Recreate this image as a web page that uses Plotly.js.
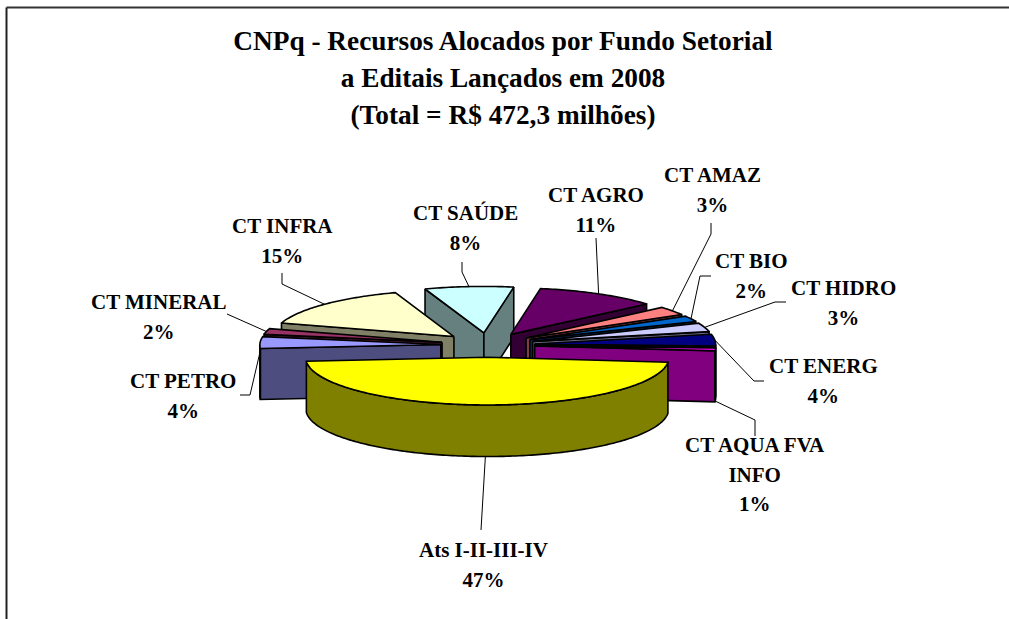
<!DOCTYPE html>
<html>
<head>
<meta charset="utf-8">
<script src="https://cdn.plot.ly/plotly-3.0.1.min.js"></script>
<style>html,body{margin:0;padding:0;background:#fff;overflow:hidden}#chart{width:1009px;height:619px}</style>
</head>
<body>
<div id="chart"></div>
<script>
// Data, clockwise from CT AGRO
var categories = ["CT AGRO","CT AMAZ","CT BIO","CT HIDRO","CT ENERG","CT AQUA FVA<br>INFO","Ats I-II-III-IV","CT PETRO","CT MINERAL","CT INFRA","CT SAÚDE"];
var shares = [11,3,2,3,4,1,47,4,2,15,8];
var topColors = ["#660066","#FF8080","#0066CC","#CCCCFF","#000080","#FF00FF","#FFFF00","#9999FF","#993366","#FFFFCC","#CCFFFF"];
var sideColors = ["#330033","#804040","#003366","#666680","#000040","#800080","#808000","#4D4D80","#4D1A33","#808066","#668080"];

// Pie geometry (pixel axes)
var firstAngle = 9.6, cx = 487.8, cy = 345, R = 181, explode = 47, tilt = 0.26, depth = 51, persp = 0.00005;
var W = 1009, H = 619;

// Label centres [x, y of first line] and leader way-points, in slice order
var labelPos = [[596,195],[712,175],[751,261],[843,288],[823,366],[755,445],[483,550],[183,381],[159,302],[282,226],[465,213]];
var leaderEnds = [
  [[596,238]],
  [[711,234],[711,223]],
  [[700,276],[711,276]],
  [[775,302],[786,302]],
  [[754,381],[764,381]],
  [[755,420],[755,436]],
  [[481,530]],
  [[250,395],[240,395]],
  [[227,314]],
  [[282,284],[282,273]],
  [[462,272],[462,262]]
];
var leaderOnWall = [0,0,0,0,0,1,1,0,0,0,0];
// Some leaders touch the rim away from the slice's middle
var leaderAngle = [null,null,null,null,null,95,null,264,null,null,null];

var rad = function(d){return d*Math.PI/180;};
function proj(X,Y,Z){
  var f = 1 - Y*persp;
  return [cx + X*f, cy - Y*tilt*f + Z*f];
}
function apexOf(mid){ return [explode*Math.sin(rad(mid)), explode*Math.cos(rad(mid))]; }
function rim(a,mid,z){
  var ap = apexOf(mid);
  return proj(ap[0]+R*Math.sin(rad(a)), ap[1]+R*Math.cos(rad(a)), z);
}
function poly(pts,fill){
  return {type:'scatter',mode:'lines',x:pts.map(function(p){return p[0];}),y:pts.map(function(p){return p[1];}),
    fill:'toself',fillcolor:fill,line:{color:'#000',width:1.6,simplify:false},hoverinfo:'skip',showlegend:false};
}

// Slices
var total = shares.reduce(function(a,b){return a+b;},0), acc = firstAngle, slices = [];
shares.forEach(function(v,i){
  var a1 = acc, a2 = acc + v/total*360; acc = a2;
  slices.push({i:i,a1:a1,a2:a2,mid:(a1+a2)/2});
});

function sliceTraces(s){
  var out = [], ap = apexOf(s.mid), A0 = proj(ap[0],ap[1],0), A1 = proj(ap[0],ap[1],depth);
  if (Math.sin(rad(s.a1)) < 0) {
    out.push(poly([A0,rim(s.a1,s.mid,0),rim(s.a1,s.mid,depth),A1,A0],sideColors[s.i]));
  }
  if (Math.sin(rad(s.a2)) > 0) {
    out.push(poly([A0,rim(s.a2,s.mid,0),rim(s.a2,s.mid,depth),A1,A0],sideColors[s.i]));
  }
  var from = Math.max(s.a1,90), to = Math.min(s.a2,270);
  if (to > from) {
    var up = [], down = [];
    for (var a = from; a < to; a += 1) { up.push(rim(a,s.mid,0)); down.unshift(rim(a,s.mid,depth)); }
    up.push(rim(to,s.mid,0)); down.unshift(rim(to,s.mid,depth));
    out.push(poly(up.concat(down,[up[0]]),sideColors[s.i]));
  }
  var top = [A0];
  for (var b = s.a1; b < s.a2; b += 1) top.push(rim(b,s.mid,0));
  top.push(rim(s.a2,s.mid,0)); top.push(A0);
  out.push(poly(top,topColors[s.i]));
  return out;
}

// Painter's order: back to front
var order = [10,9,8,7,0,1,2,3,4,5,6], traces = [];
order.forEach(function(i){ traces = traces.concat(sliceTraces(slices[i])); });

// Leader lines start on the slice they name
slices.forEach(function(s){
  var a = leaderAngle[s.i] === null ? s.mid : leaderAngle[s.i];
  var start = rim(a,s.mid,leaderOnWall[s.i]?depth:0);
  var pts = [start].concat(leaderEnds[s.i]);
  traces.push({type:'scatter',mode:'lines',x:pts.map(function(p){return p[0];}),y:pts.map(function(p){return p[1];}),
    line:{color:'#000',width:1},hoverinfo:'skip',showlegend:false});
});

var serif = '"Liberation Serif","Times New Roman",serif';
var annotations = slices.map(function(s){
  var lines = (categories[s.i]+'<br>'+shares[s.i]+'%');
  return {xref:'x',yref:'y',x:labelPos[s.i][0],y:labelPos[s.i][1]-14,yanchor:'top',xanchor:'center',align:'center',showarrow:false,
    text:'<b><span style="font-size:21px">'+lines.split('<br>').join('</span></b><br><b><span style="font-size:21px">')+'</span></b>',
    font:{family:serif,size:22.8,color:'#000'}};
});

var titleLines = ['CNPq - Recursos Alocados por Fundo Setorial','a Editais Lançados em 2008','(Total = R$ 472,3 milhões)'];
var layout = {
  width:W,height:H,margin:{l:0,r:0,t:0,b:0},paper_bgcolor:'#fff',plot_bgcolor:'#fff',showlegend:false,
  title:{text:titleLines.map(function(t){return '<b><span style="font-size:27.3px">'+t+'</span></b>';}).join('<br>'),
    x:503/W,xanchor:'center',xref:'paper',y:1-50/H,yanchor:'top',yref:'container',font:{family:serif,size:28.5,color:'#000'}},
  xaxis:{range:[0,W],visible:false,fixedrange:true},
  yaxis:{range:[H,0],visible:false,fixedrange:true},
  annotations:annotations,
  shapes:[
    {type:'line',xref:'x',yref:'y',x0:6.5,y0:7.5,x1:W,y1:7.5,line:{color:'#333',width:2}},
    {type:'line',xref:'x',yref:'y',x0:6.5,y0:7.5,x1:6.5,y1:H,line:{color:'#222',width:2}}
  ]
};
Plotly.newPlot('chart',traces,layout,{displayModeBar:false,staticPlot:true});
</script>
</body>
</html>
